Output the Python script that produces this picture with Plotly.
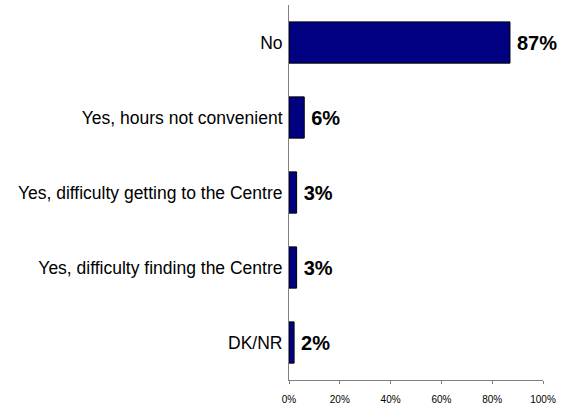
import plotly.graph_objects as go

categories = [
    "No",
    "Yes, hours not convenient",
    "Yes, difficulty getting to the Centre",
    "Yes, difficulty finding the Centre",
    "DK/NR",
]
values = [87, 6, 3, 3, 2]
tick_vals = [0, 20, 40, 60, 80, 100]
tick_text = ["0%", "20%", "40%", "60%", "80%", "100%"]

fig = go.Figure(
    go.Bar(
        x=values,
        y=categories,
        orientation="h",
        width=0.55,
        marker=dict(color="#000080", line=dict(color="#000000", width=1)),
        text=[f"{v}%" for v in values],
        textposition="outside",
        textfont=dict(family="Liberation Sans, Arial, sans-serif", size=20, color="#000000"),
        # thin space keeps the value clear of the bar end
        texttemplate="<b>\u2009%{text}</b>",
        cliponaxis=False,
    )
)

fig.update_layout(
    width=561,
    height=410,
    margin=dict(l=289, r=16, t=5, b=27),
    paper_bgcolor="white",
    plot_bgcolor="white",
    showlegend=False,
    font=dict(family="Liberation Sans, Arial, sans-serif", color="#000000"),
    xaxis=dict(
        range=[0, 100],
        tickvals=tick_vals,
        ticktext=tick_text,
        tickfont=dict(size=10),
        ticks="outside",
        ticklen=3,
        tickcolor="#808080",
        ticklabelstandoff=7,
        showline=True,
        linecolor="#808080",
        linewidth=1,
        showgrid=False,
        zeroline=False,
    ),
    yaxis=dict(
        categoryorder="array",
        categoryarray=categories,
        autorange="reversed",
        tickfont=dict(size=17.5),
        ticks="",
        ticklabelstandoff=2,
        showline=True,
        linecolor="#808080",
        linewidth=1,
        showgrid=False,
        zeroline=False,
    ),
)

fig.write_html("out.html")
